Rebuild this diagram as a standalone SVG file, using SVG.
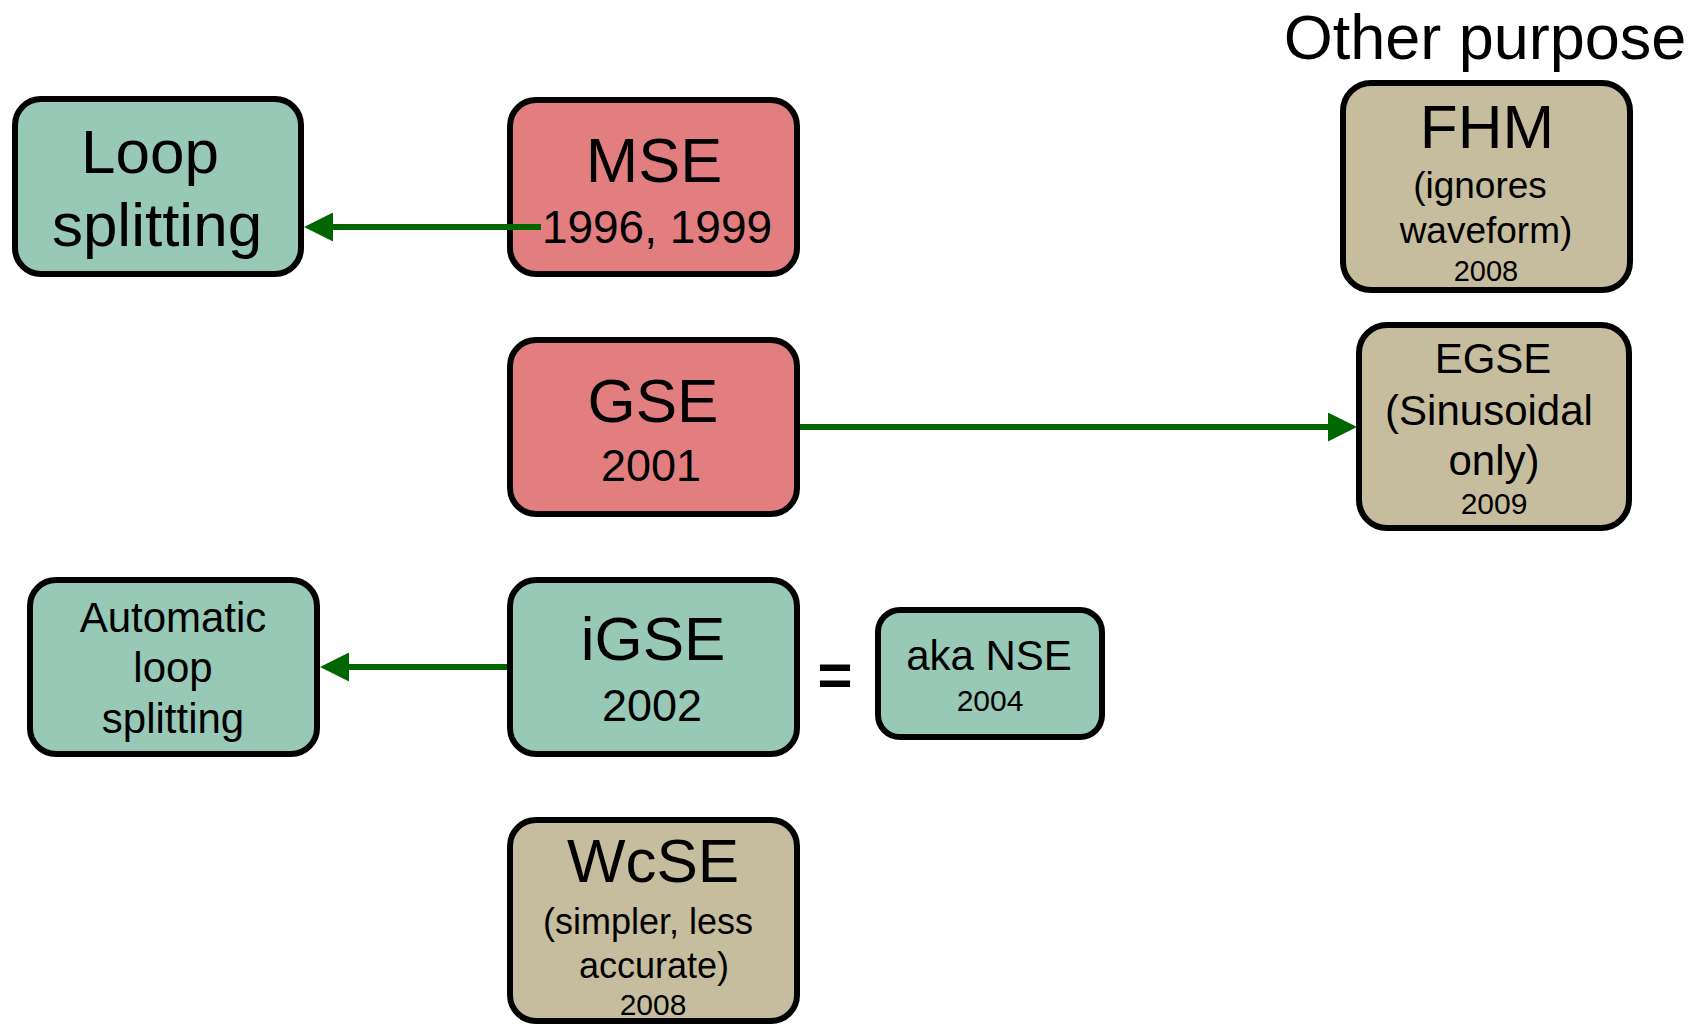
<svg xmlns="http://www.w3.org/2000/svg" width="1696" height="1027" viewBox="0 0 1696 1027">
<style>
.box{stroke:#000;stroke-width:6}
.teal{fill:#98c8b6}
.red{fill:#e27e80}
.tan{fill:#c5bd9d}
text{font-family:"Liberation Sans",Arial,sans-serif;fill:#000;text-anchor:middle}
.conn{stroke:#006600;stroke-width:6;fill:none}
</style>
<defs>
<marker id="ah" viewBox="0 0 29 29" markerWidth="29" markerHeight="29" refX="0" refY="14.5" orient="auto" markerUnits="userSpaceOnUse">
<path d="M0,0 L29,14.5 L0,29 z" fill="#006600"/>
</marker>
</defs>
<rect width="1696" height="1027" fill="#fff"/>
<text x="1485" y="59" font-size="63">Other purpose</text>
<g id="loop-splitting">
<rect class="box teal" x="15" y="99" width="286" height="175" rx="26"/>
<text x="150" y="173" font-size="62">Loop</text>
<text x="157" y="246" font-size="62">splitting</text>
</g>
<g id="mse">
<rect class="box red" x="510" y="100" width="287" height="174" rx="26"/>
<text x="654" y="182" font-size="63">MSE</text>
<text x="657" y="243" font-size="46">1996, 1999</text>
</g>
<g id="gse">
<rect class="box red" x="510" y="340" width="287" height="174" rx="26"/>
<text x="653" y="422" font-size="62">GSE</text>
<text x="651" y="481" font-size="45">2001</text>
</g>
<g id="igse">
<rect class="box teal" x="510" y="580" width="287" height="174" rx="26"/>
<text x="653" y="660" font-size="62">iGSE</text>
<text x="652" y="721" font-size="45">2002</text>
</g>
<g id="auto-loop-splitting">
<rect class="box teal" x="30" y="580" width="287" height="174" rx="26"/>
<text x="173" y="632" font-size="42">Automatic</text>
<text x="173" y="682" font-size="42">loop</text>
<text x="173" y="733" font-size="42">splitting</text>
</g>
<g id="equals">
<text x="835" y="695" font-size="60" font-weight="bold">=</text>
</g>
<g id="aka-nse">
<rect class="box teal" x="878" y="610" width="224" height="127" rx="22"/>
<text x="989" y="670" font-size="42">aka NSE</text>
<text x="990" y="711" font-size="30">2004</text>
</g>
<g id="wcse">
<rect class="box tan" x="510" y="820" width="287" height="201" rx="26"/>
<text x="653" y="882" font-size="62">WcSE</text>
<text x="648" y="934" font-size="36">(simpler, less</text>
<text x="654" y="978" font-size="36">accurate)</text>
<text x="653" y="1015" font-size="30">2008</text>
</g>
<g id="fhm">
<rect class="box tan" x="1343" y="83" width="287" height="207" rx="28"/>
<text x="1487" y="148" font-size="62">FHM</text>
<text x="1480" y="198" font-size="37">(ignores</text>
<text x="1486" y="243" font-size="37">waveform)</text>
<text x="1486" y="281" font-size="29">2008</text>
</g>
<g id="egse">
<rect class="box tan" x="1359" y="325" width="270" height="203" rx="28"/>
<text x="1493" y="373" font-size="42">EGSE</text>
<text x="1489" y="425" font-size="42">(Sinusoidal</text>
<text x="1494" y="475" font-size="42">only)</text>
<text x="1494" y="514" font-size="30">2009</text>
</g>
<g id="connectors">
<path class="conn" d="M541,227 H333" marker-end="url(#ah)"/>
<path class="conn" d="M800,427 H1328" marker-end="url(#ah)"/>
<path class="conn" d="M507,667 H349" marker-end="url(#ah)"/>
</g>
</svg>
